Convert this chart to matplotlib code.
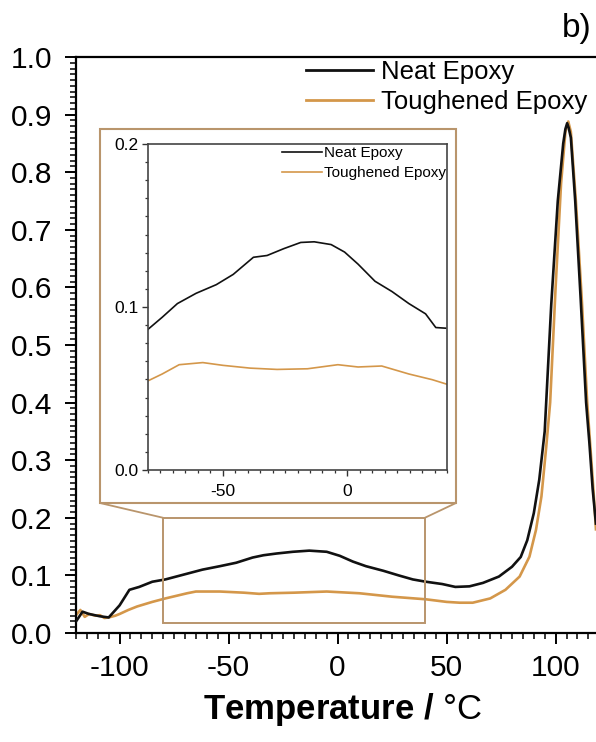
import matplotlib
matplotlib.use("Agg")
import matplotlib.pyplot as plt
from matplotlib.patches import Rectangle, ConnectionPatch
from matplotlib.ticker import MultipleLocator, AutoMinorLocator
from matplotlib.lines import Line2D

plt.rcParams['font.family'] = ['Liberation Sans', 'DejaVu Sans']
plt.rcParams['axes.unicode_minus'] = False
plt.rcParams['mathtext.fontset'] = 'custom'
plt.rcParams['mathtext.rm'] = 'Liberation Sans'
plt.rcParams['mathtext.bf'] = 'Liberation Sans:bold'
plt.rcParams['mathtext.it'] = 'Liberation Sans:italic'

# ---------------- data (main plot) ----------------
neat_T = [-120, -117, -114, -109, -105, -100, -95.5, -91, -85, -79, -69, -62, -54,
          -46.5, -39, -34, -28, -20.5, -13, -5, 1, 7, 13, 21, 28, 34.5, 40.5, 48,
          54, 60.5, 66.7, 74, 80, 84, 87, 90, 92.5, 95, 98, 101, 103.5, 104.5,
          105.3, 106, 107, 109, 111.5, 114, 115.5, 117, 118.5]
neat_y = [0.020, 0.037, 0.033, 0.029, 0.027, 0.048, 0.075, 0.080, 0.089, 0.093,
          0.103, 0.110, 0.116, 0.122, 0.131, 0.135, 0.138, 0.141, 0.143, 0.141,
          0.134, 0.124, 0.116, 0.108, 0.100, 0.093, 0.089, 0.085, 0.080, 0.081,
          0.087, 0.098, 0.115, 0.132, 0.161, 0.208, 0.266, 0.350, 0.570, 0.750,
          0.850, 0.875, 0.885, 0.877, 0.860, 0.750, 0.580, 0.400, 0.330, 0.250, 0.190]

tough_T = [-120, -118, -116, -114, -111, -109, -107, -105, -102, -100, -96, -92,
           -85, -79, -69, -65, -54, -43, -36, -31, -20, -5, 10, 25, 40.5, 50, 56,
           62, 70, 77, 83.5, 88, 91, 93.5, 95.7, 97.5, 100, 102.5, 104.5, 105.8,
           107, 109.3, 112, 114.5, 116, 117.5, 118.5]
tough_y = [0.031, 0.040, 0.028, 0.033, 0.030, 0.031, 0.026, 0.027, 0.030, 0.033,
           0.040, 0.046, 0.054, 0.060, 0.069, 0.072, 0.072, 0.070, 0.068, 0.069,
           0.070, 0.072, 0.069, 0.063, 0.0585, 0.054, 0.0526, 0.0526, 0.060, 0.075,
           0.098, 0.1325, 0.179, 0.237, 0.323, 0.400, 0.600, 0.780, 0.870, 0.888,
           0.870, 0.750, 0.580, 0.400, 0.320, 0.240, 0.180]

# ---------------- data (inset) ----------------
in_neat_T = [-80, -74.3, -68.2, -60.7, -52.6, -45.8, -37.7, -32.2, -25.5, -18.7,
             -13.3, -6.5, -1.1, 4.3, 11.1, 17.9, 24.7, 31.4, 35.5, 39.5]
in_neat_y = [0.0863, 0.0937, 0.1021, 0.1084, 0.1137, 0.1200, 0.1305, 0.1316,
             0.1358, 0.1396, 0.1400, 0.1383, 0.1337, 0.1263, 0.1158, 0.1095,
             0.1021, 0.0958, 0.0874, 0.0870]
in_tough_T = [-80, -74.3, -67.5, -58, -49.9, -39, -28.2, -16, -3.8, 4.3, 13.8,
              24.7, 34.1, 40.0]
in_tough_y = [0.0547, 0.0589, 0.0646, 0.0659, 0.0642, 0.0625, 0.0617, 0.0621,
              0.0646, 0.0632, 0.0638, 0.0589, 0.0554, 0.0526]

labels = ["Neat Epoxy", "Toughened Epoxy"]
zoom_box = (-80, 40, 0.017, 0.2)  # x0, x1, y0, y1

BLACK = '#111111'
ORANGE = '#D4974A'
BOX = '#B9956C'

W, H = 596, 742
fig = plt.figure(figsize=(W / 100, H / 100), dpi=100)


def fx(px):
    return px / W


def fy(py):
    return 1 - py / H

# main axes (extends past right edge of figure, as in the cropped original)
ax = fig.add_axes([fx(76), fy(633), fx(621) - fx(76), fy(57) - fy(633)])
ax.plot(neat_T, neat_y, color=BLACK, lw=1.9, zorder=3)
ax.plot(tough_T, tough_y, color=ORANGE, lw=1.9, zorder=2)
ax.set_xlim(-120, 130)
ax.set_ylim(0, 1.0)
ax.xaxis.set_major_locator(MultipleLocator(50))
ax.xaxis.set_minor_locator(MultipleLocator(5))
ax.yaxis.set_major_locator(MultipleLocator(0.1))
ax.yaxis.set_minor_locator(MultipleLocator(0.01))
ax.yaxis.set_major_formatter(plt.FuncFormatter(lambda v, p: f"{v:.1f}"))
ax.tick_params(which='major', direction='out', length=8, width=1.4,
               labelsize=21.5, pad=7)
ax.tick_params(which='minor', direction='out', length=4, width=1.1)
ax.tick_params(axis='y', which='major', pad=9)
for s in ax.spines.values():
    s.set_linewidth(1.6)
ax.spines['right'].set_visible(False)

# zoom rectangle in main axes
x0, x1, y0, y1 = zoom_box
ax.add_patch(Rectangle((x0, y0), x1 - x0, y1 - y0, fill=False, ec=BOX, lw=1.4, zorder=4))

# main legend
handles = [Line2D([], [], color=BLACK, lw=2.0), Line2D([], [], color=ORANGE, lw=2.0)]
ax.legend(handles, labels, loc='upper left', bbox_to_anchor=(fx(306), fy(60)),
          bbox_transform=fig.transFigure, frameon=False, fontsize=18.5,
          handlelength=2.6, handletextpad=0.3, borderpad=0, borderaxespad=0,
          labelspacing=0.25)

# x label
fig.text(fx(343), fy(710), r'$\mathbf{Temperature\ /}\ \mathrm{°C}$',
         ha='center', va='center', fontsize=25)
# panel label
fig.text(fx(592), fy(28), 'b)', ha='right', va='center', fontsize=24)

# orange frame around inset
bx0, by0, bx1, by1 = 100, 129, 456, 503
frame = Rectangle((fx(bx0), fy(by1)), fx(bx1) - fx(bx0), fy(by0) - fy(by1),
                  transform=fig.transFigure, fc='white', ec=BOX, lw=1.5, zorder=5)
fig.patches.append(frame)

# connector lines
for (cx, cy), (dx, dy) in [((bx0, by1), (x0, y1)), ((bx1, by1), (x1, y1))]:
    cp = ConnectionPatch(xyA=(fx(cx), fy(cy)), coordsA=fig.transFigure,
                         xyB=(dx, dy), coordsB=ax.transData,
                         color=BOX, lw=1.3, zorder=5)
    fig.add_artist(cp)

# inset axes
ia = fig.add_axes([fx(148), fy(470), fx(447) - fx(148), fy(144) - fy(470)], zorder=6)
ia.plot(in_neat_T, in_neat_y, color=BLACK, lw=1.2)
ia.plot(in_tough_T, in_tough_y, color=ORANGE, lw=1.2)
ia.set_xlim(-80, 40)
ia.set_ylim(0, 0.2)
ia.xaxis.set_major_locator(MultipleLocator(50))
ia.xaxis.set_minor_locator(MultipleLocator(5))
ia.yaxis.set_major_locator(MultipleLocator(0.1))
ia.yaxis.set_minor_locator(AutoMinorLocator(9))
ia.yaxis.set_major_formatter(plt.FuncFormatter(lambda v, p: f"{v:.1f}"))
ia.tick_params(which='major', direction='out', length=4, width=1.0,
               labelsize=12.5, pad=3, color='#333333')
ia.tick_params(axis='x', which='major', pad=6)
ia.tick_params(which='minor', direction='out', length=2.5, width=0.9, color='#333333')
for s in ia.spines.values():
    s.set_linewidth(1.2)
    s.set_color('#444444')
ih = [Line2D([], [], color=BLACK, lw=1.2), Line2D([], [], color=ORANGE, lw=1.2)]
ia.legend(ih, labels, loc='upper right', bbox_to_anchor=(fx(446), fy(146)),
          bbox_transform=fig.transFigure, frameon=False, fontsize=11,
          handlelength=2.6, handletextpad=0.15, borderpad=0, borderaxespad=0,
          labelspacing=0.4)

fig.savefig('out.png', dpi=100)
